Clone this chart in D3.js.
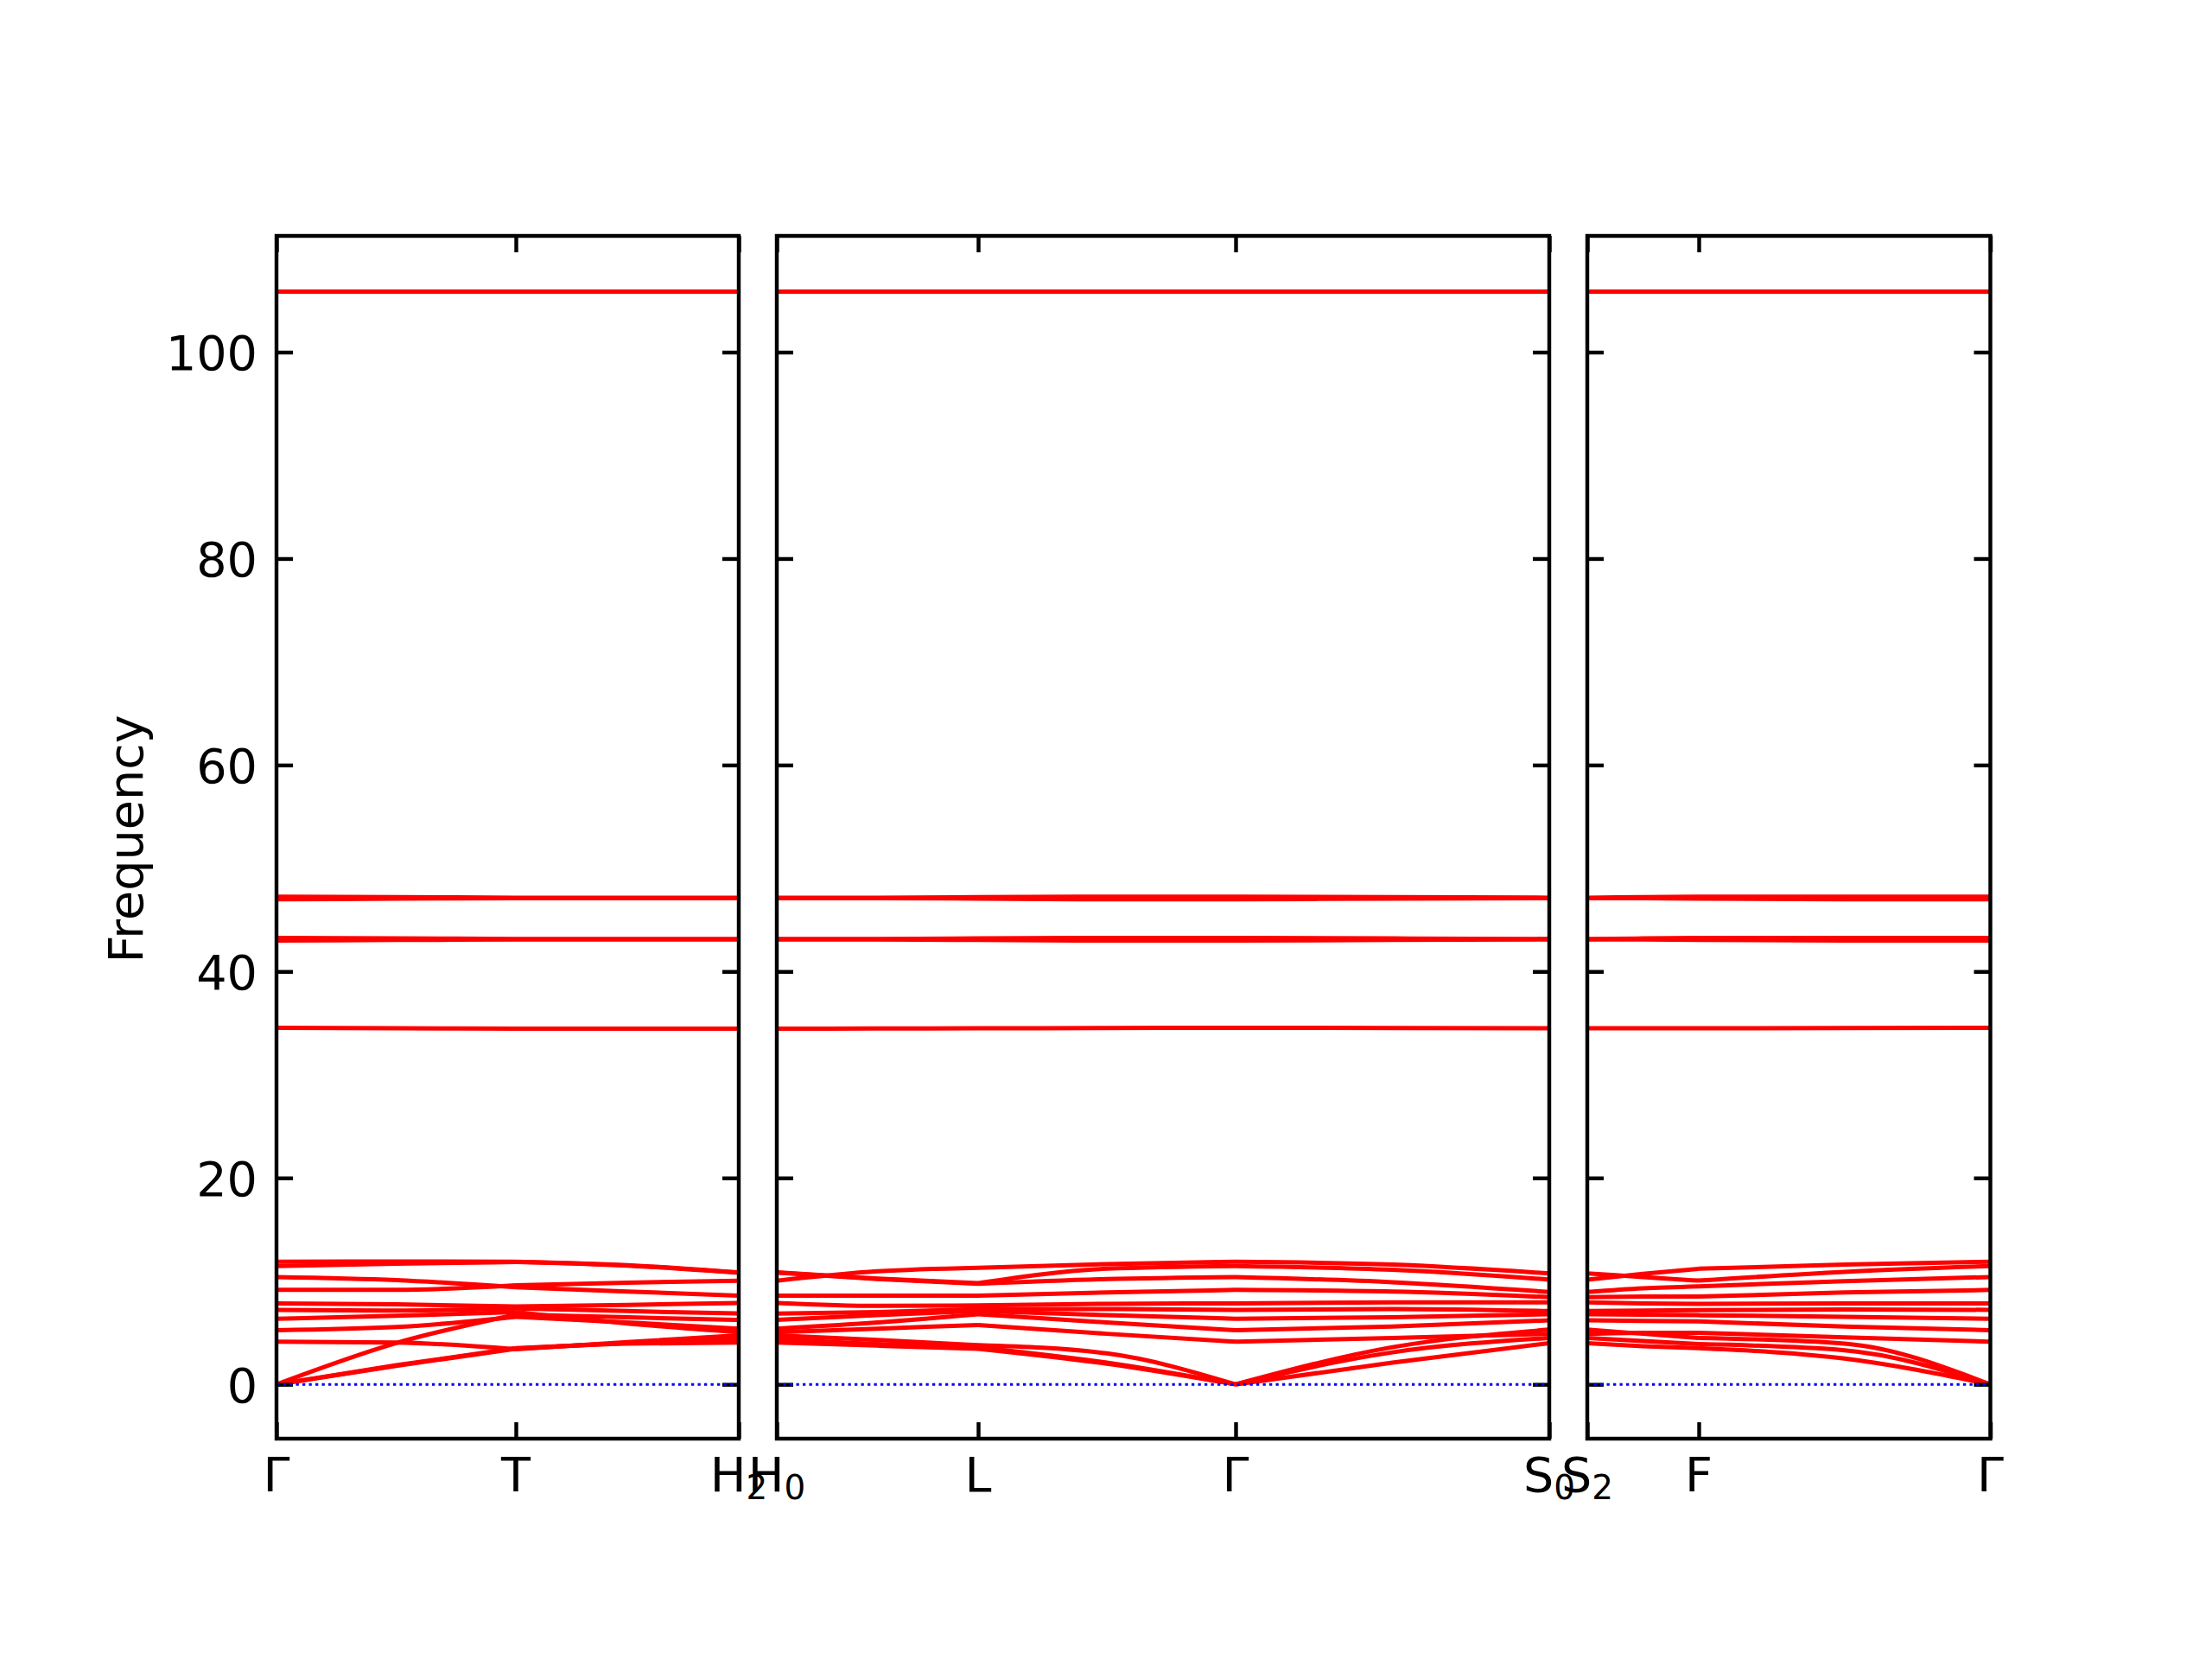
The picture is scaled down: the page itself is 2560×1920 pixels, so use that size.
<!DOCTYPE html>
<html>
<head>
<meta charset="utf-8">
<script src="https://cdn.jsdelivr.net/npm/d3@7"></script>
<style>
  html, body { margin: 0; padding: 0; background: #ffffff; }
</style>
</head>
<body>
<script>
// ---------------- DATA ----------------
const yTicks = [0, 20, 40, 60, 80, 100];
const yDomain = [-5.26, 111.26];
const yTitle = "Frequency";

// Panel 1: Γ – T – H2  (q positions: sym, mid, sym, mid, sym)
const panel1Labels = ["Γ", "T", "H_2"];
const panel1Q = [0, 0.1385, 0.277, 0.406, 0.535];
const panel1Bands = [
  [0, 1.8, 3.45, 3.95, 4.05],
  [0, 1.85, 3.5, 4.0, 4.4],
  [4.13, 4.05, 3.4, 4.1, 4.75],
  [0, 4.0, 6.75, 6.5, 6.24],
  [5.25, 5.55, 6.55, 6.0, 5.4],
  [6.36, 6.65, 7.0, 5.9, 5.05],
  [7.22, 7.15, 7.35, 7.1, 6.86],
  [7.84, 7.75, 7.55, 7.7, 7.89],
  [9.15, 9.15, 9.6, 9.85, 10.04],
  [10.4, 10.1, 9.4, 9.0, 8.59],
  [11.46, 11.7, 11.85, 11.5, 10.82],
  [11.88, 11.9, 11.88, 11.55, 10.85],
  [34.55, 34.5, 34.45, 34.45, 34.45],
  [43.0, 43.05, 43.1, 43.1, 43.1],
  [43.25, 43.2, 43.15, 43.15, 43.15],
  [47.0, 47.05, 47.1, 47.1, 47.1],
  [47.25, 47.2, 47.15, 47.15, 47.15],
  [105.86, 105.86, 105.86, 105.86, 105.86]
];

// Panel 2: H0 – L – Γ – S0
const panel2Labels = ["H_0", "L", "Γ", "S_0"];
const panel2Q = [0, 0.1165, 0.233, 0.382, 0.531, 0.7125, 0.894];
const panel2Bands = [
  [4.05, 3.75, 3.45, 2.0, 0, 2.1, 4.0],
  [4.4, 3.9, 3.6, 2.1, 0, 3.1, 4.5],
  [4.75, 4.3, 3.8, 3.0, 0, 3.6, 5.3],
  [5.05, 5.4, 5.75, 4.9, 4.13, 4.5, 4.9],
  [5.4, 6.0, 6.8, 6.0, 5.25, 5.6, 6.2],
  [6.24, 6.7, 7.1, 6.7, 6.36, 6.5, 6.8],
  [6.86, 7.0, 7.3, 7.3, 7.22, 7.3, 7.1],
  [7.89, 7.6, 7.65, 7.8, 7.84, 7.95, 7.95],
  [8.59, 8.6, 8.6, 8.9, 9.15, 9.0, 8.45],
  [10.04, 10.95, 11.3, 11.65, 11.88, 11.6, 10.75],
  [10.82, 10.2, 9.75, 10.2, 10.4, 9.9, 8.95],
  [10.85, 10.25, 9.8, 11.2, 11.46, 11.1, 10.15],
  [34.45, 34.47, 34.5, 34.52, 34.55, 34.52, 34.5],
  [43.1, 43.1, 43.05, 43.0, 43.0, 43.05, 43.1],
  [43.15, 43.15, 43.2, 43.25, 43.25, 43.2, 43.15],
  [47.1, 47.1, 47.05, 47.0, 47.0, 47.05, 47.1],
  [47.15, 47.15, 47.2, 47.25, 47.25, 47.2, 47.15],
  [105.86, 105.86, 105.86, 105.86, 105.86, 105.86, 105.86]
];

// Panel 3: S2 – F – Γ
const panel3Labels = ["S_2", "F", "Γ"];
const panel3Q = [0, 0.0645, 0.129, 0.29775, 0.4665];
const panel3Bands = [
  [4.0, 3.7, 3.5, 2.5, 0],
  [4.5, 4.2, 3.9, 3.3, 0],
  [5.3, 4.9, 4.5, 3.95, 0],
  [4.9, 5.0, 5.0, 4.55, 4.13],
  [6.2, 6.15, 6.1, 5.6, 5.25],
  [6.8, 6.75, 6.7, 6.55, 6.36],
  [7.1, 7.15, 7.2, 7.25, 7.22],
  [7.95, 7.85, 7.8, 7.85, 7.84],
  [8.45, 8.5, 8.5, 8.9, 9.15],
  [10.75, 10.4, 10.05, 10.9, 11.46],
  [8.95, 9.3, 9.5, 10.0, 10.4],
  [10.15, 10.7, 11.2, 11.6, 11.88],
  [34.5, 34.5, 34.5, 34.52, 34.55],
  [43.1, 43.1, 43.05, 43.0, 43.0],
  [43.15, 43.2, 43.25, 43.25, 43.25],
  [47.1, 47.1, 47.05, 47.0, 47.0],
  [47.15, 47.2, 47.25, 47.25, 47.25],
  [105.86, 105.86, 105.86, 105.86, 105.86]
];

// ---------------- LAYOUT ----------------
const W = 2560, H = 1920;
const figLeft = 320, figRight = 2303.5, gap = 44;
const plotTop = 273, plotBottom = 1665;
const tickLen = 19;
const fontFamily = "'DejaVu Sans', sans-serif";
const fontSize = 55.6;
const subSize = 38.9;

const svg = d3.select("body").append("svg")
  .attr("width", W).attr("height", H)
  .attr("xmlns", "http://www.w3.org/2000/svg");
svg.append("rect").attr("width", W).attr("height", H).attr("fill", "#ffffff");
const defs = svg.append("defs");

const panels = [
  { q: panel1Q, bands: panel1Bands, labels: panel1Labels },
  { q: panel2Q, bands: panel2Bands, labels: panel2Labels },
  { q: panel3Q, bands: panel3Bands, labels: panel3Labels }
];

const totalLen = d3.sum(panels, p => p.q[p.q.length - 1]);
const k = (figRight - figLeft - gap * (panels.length - 1)) / totalLen;
const y = d3.scaleLinear().domain(yDomain).range([plotBottom, plotTop]);

let cursor = figLeft;
panels.forEach((p, pi) => {
  const len = p.q[p.q.length - 1];
  const x0 = cursor, x1 = cursor + len * k;
  cursor = x1 + gap;
  const x = d3.scaleLinear().domain([0, len]).range([x0, x1]);
  const symIdx = d3.range(0, p.q.length, 2);
  const symQ = symIdx.map(i => p.q[i]);

  const g = svg.append("g");
  const clipId = "clip" + pi;
  defs.append("clipPath").attr("id", clipId)
    .append("rect").attr("x", x0).attr("y", plotTop)
    .attr("width", x1 - x0).attr("height", plotBottom - plotTop);

  // bands
  const bandG = g.append("g").attr("clip-path", `url(#${clipId})`);
  p.bands.forEach(b => {
    const line = d3.line()
      .x(i => x(p.q[i]))
      .y(i => y(b[i]))
      .curve(d3.curveMonotoneX);
    for (let s = 0; s < symIdx.length - 1; s++) {
      const idx = d3.range(symIdx[s], symIdx[s + 1] + 1);
      bandG.append("path")
        .attr("d", line(idx))
        .attr("fill", "none")
        .attr("stroke", "#ff0000")
        .attr("stroke-width", 5)
        .attr("stroke-linejoin", "round");
    }
  });

  // axes (inward ticks on all sides)
  const styleAxis = sel => {
    sel.select(".domain").remove();
    sel.selectAll(".tick line").attr("stroke", "#000").attr("stroke-width", 4.44);
    sel.attr("font-family", fontFamily).attr("font-size", fontSize);
    sel.selectAll(".tick text").attr("fill", "#000");
  };
  g.append("g").attr("transform", `translate(0,${plotBottom})`)
    .call(d3.axisBottom(x).tickValues(symQ).tickSize(-tickLen).tickFormat(""))
    .call(styleAxis);
  g.append("g").attr("transform", `translate(0,${plotTop})`)
    .call(d3.axisTop(x).tickValues(symQ).tickSize(-tickLen).tickFormat(""))
    .call(styleAxis);
  g.append("g").attr("transform", `translate(${x0},0)`)
    .call(d3.axisLeft(y).tickValues(yTicks).tickSize(-tickLen).tickPadding(22)
      .tickFormat(pi === 0 ? d3.format("d") : ""))
    .call(styleAxis)
    .call(sel => sel.selectAll(".tick text").attr("dy", "0.36em"));
  g.append("g").attr("transform", `translate(${x1},0)`)
    .call(d3.axisRight(y).tickValues(yTicks).tickSize(-tickLen).tickFormat(""))
    .call(styleAxis);

  // zero line (blue dotted)
  g.append("line")
    .attr("x1", x0).attr("x2", x1)
    .attr("y1", y(0)).attr("y2", y(0))
    .attr("stroke", "#0000ff").attr("stroke-width", 3)
    .attr("stroke-dasharray", "3.3,4.2");

  // frame
  g.append("rect")
    .attr("x", x0).attr("y", plotTop)
    .attr("width", x1 - x0).attr("height", plotBottom - plotTop)
    .attr("fill", "none").attr("stroke", "#000").attr("stroke-width", 4.44);

  // x labels
  symQ.forEach((qv, j) => {
    const lab = p.labels[j];
    const parts = lab.split("_");
    const t = g.append("text")
      .attr("x", x(qv)).attr("y", 1726)
      .attr("text-anchor", "middle")
      .attr("font-family", fontFamily)
      .attr("font-size", fontSize)
      .attr("fill", "#000");
    t.append("tspan").text(parts[0]);
    if (parts.length > 1) {
      t.append("tspan").attr("font-size", subSize).attr("dy", 9).text(parts[1]);
    }
  });
});

// y axis title
svg.append("text")
  .attr("transform", `translate(165,971) rotate(-90)`)
  .attr("text-anchor", "middle")
  .attr("font-family", fontFamily)
  .attr("font-size", fontSize)
  .attr("fill", "#000")
  .text(yTitle);
</script>
</body>
</html>
